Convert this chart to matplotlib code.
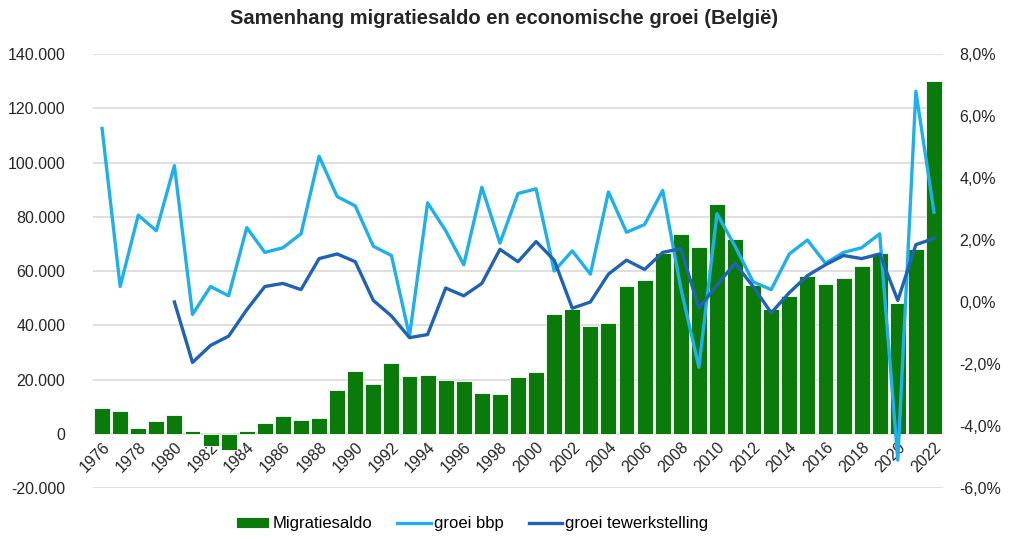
"""Migratiesaldo versus groei bbp en tewerkstelling, België 1976-2022."""

import matplotlib
matplotlib.use("Agg")
import matplotlib.pyplot as plt
import numpy as np
from matplotlib.ticker import FuncFormatter, MultipleLocator

YEARS = list(range(1976, 2023))

MIGRATIESALDO = [
    9500, 8500, 2100, 4800, 7100, 1200, -4400, -6100, 1100, 3800,
    6400, 5200, 5800, 16000, 23200, 18500, 26200, 21300, 21600, 20000,
    19500, 15200, 14500, 20900, 22600, 44300, 45900, 39700, 40900, 54500,
    56600, 66600, 73500, 68800, 84600, 71800, 55000, 46100, 50800, 58100,
    55100, 57600, 61700, 66600, 48200, 68200, 130100,
]

GROEI_BBP = [
    5.6, 0.5, 2.8, 2.3, 4.4, -0.4, 0.5, 0.2, 2.4, 1.6,
    1.75, 2.2, 4.7, 3.4, 3.1, 1.8, 1.5, -1.1, 3.2, 2.3,
    1.2, 3.7, 1.9, 3.5, 3.65, 1.0, 1.65, 0.9, 3.55, 2.25,
    2.5, 3.6, 0.45, -2.1, 2.85, 1.8, 0.65, 0.4, 1.55, 2.0,
    1.25, 1.6, 1.75, 2.2, -5.1, 6.8, 2.9,
]

GROEI_TEWERKSTELLING = [
    np.nan, np.nan, np.nan, np.nan, 0.0, -1.95, -1.4, -1.1, -0.25, 0.5,
    0.6, 0.4, 1.4, 1.55, 1.3, 0.05, -0.45, -1.15, -1.05, 0.45,
    0.2, 0.6, 1.7, 1.3, 1.95, 1.35, -0.2, 0.0, 0.9, 1.35,
    1.05, 1.6, 1.72, -0.2, 0.55, 1.25, 0.5, -0.35, 0.3, 0.85,
    1.2, 1.5, 1.4, 1.55, 0.05, 1.85, 2.05,
]

GREEN = "#0a7b0a"
LIGHT_BLUE = "#1eb0ea"
DARK_BLUE = "#1f63b2"
GRID = "#d9d9d9"
TEXT = "#262626"

plt.rcParams["font.family"] = ["Liberation Sans", "DejaVu Sans"]
NARROW = ["Liberation Sans Narrow", "Liberation Sans", "DejaVu Sans"]

fig = plt.figure(figsize=(10.09, 5.39), dpi=100)
ax = fig.add_axes([0.0922, 0.0946, 0.8424, 0.8052])
ax2 = ax.twinx()

x = np.arange(len(YEARS))

ax.bar(x, MIGRATIESALDO, width=0.88, color=GREEN, edgecolor="white",
       linewidth=0.6, zorder=2, label="Migratiesaldo")
ax2.plot(x, GROEI_BBP, color=LIGHT_BLUE, lw=2.4, zorder=3, label="groei bbp")
ax2.plot(x, GROEI_TEWERKSTELLING, color=DARK_BLUE, lw=2.4, zorder=4,
         label="groei tewerkstelling")

# left axis: aantallen, right axis: groeipercentages
ax.set_ylim(-20000, 140000)
ax.yaxis.set_major_locator(MultipleLocator(20000))
ax.yaxis.set_major_formatter(
    FuncFormatter(lambda v, p: f"{v:,.0f}".replace(",", ".")))
ax2.set_ylim(-6, 8)
ax2.yaxis.set_major_locator(MultipleLocator(2))
ax2.yaxis.set_major_formatter(
    FuncFormatter(lambda v, p: f"{v:.1f}%".replace(".", ",")))

ax.set_xlim(-0.5, len(YEARS) - 0.5)
ax.yaxis.grid(True, color=GRID, lw=1.2, zorder=0)
ax.set_axisbelow(True)

# year labels sit just below the zero line, every other year
ax.spines["bottom"].set_position(("data", 0))
ax.set_xticks(x[::2])
ax.set_xticklabels([str(y) for y in YEARS[::2]], rotation=45, ha="right",
                   rotation_mode="anchor", fontsize=11.5, color=TEXT)
ax.tick_params(axis="x", length=0, pad=4)
ax.tick_params(axis="y", length=0, pad=20, labelsize=11.5, labelcolor=TEXT)
ax2.tick_params(axis="y", length=0, pad=12, labelsize=11.5, labelcolor=TEXT)

for a in (ax, ax2):
    for s in a.spines.values():
        s.set_visible(False)

# lines must draw above the bars
ax2.set_zorder(ax.get_zorder() + 1)
ax2.patch.set_visible(False)

fig.text(0.5, 0.965, "Samenhang migratiesaldo en economische groei (België)",
         ha="center", va="center", fontsize=14.5, fontweight="bold",
         family=NARROW, color=TEXT)

h1, l1 = ax.get_legend_handles_labels()
h2, l2 = ax2.get_legend_handles_labels()
fig.legend(h1 + h2, l1 + l2, loc="center", bbox_to_anchor=(0.468, 0.028),
           ncol=3, frameon=False, prop={"family": NARROW, "size": 12},
           handlelength=2.0, handleheight=0.6, handletextpad=0.2,
           columnspacing=1.5)

fig.savefig("out.png", dpi=100)
